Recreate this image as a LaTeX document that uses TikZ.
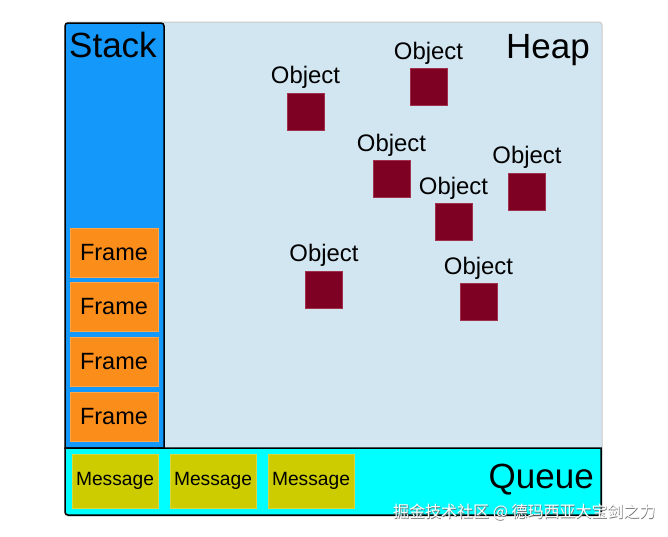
\documentclass[tikz,border=0pt]{standalone}
\usepackage{fontspec}
\setmainfont{Liberation Sans}
\newfontfamily\cjk{Noto Sans CJK SC}
\definecolor{heapfill}{HTML}{D2E6F2}
\definecolor{heapline}{HTML}{C8C8C8}
\definecolor{stackfill}{HTML}{1498FA}
\definecolor{queuefill}{HTML}{00FFFF}
\definecolor{framefill}{HTML}{FB8D1A}
\definecolor{frameline}{HTML}{FFA54A}
\definecolor{msgfill}{HTML}{CCCC00}
\definecolor{msgline}{HTML}{D6D640}
\definecolor{objfill}{HTML}{7E0022}
\definecolor{objline}{HTML}{A0304C}
\begin{document}
\begin{tikzpicture}[x=1pt,y=-1pt,
  title/.style={inner sep=0pt,font=\fontsize{35}{40}\selectfont},
  framebox/.style={fill=framefill,draw=frameline,line width=0.8pt,minimum width=88pt,minimum height=49pt,inner sep=0pt,font=\fontsize{23.5}{28}\selectfont},
  msgbox/.style={fill=msgfill,draw=msgline,line width=0.8pt,minimum width=86pt,minimum height=54pt,inner sep=0pt,font=\fontsize{19.2}{23}\selectfont},
  objbox/.style={fill=objfill,draw=objline,line width=0.5pt,minimum size=37pt,inner sep=0pt},
  objlbl/.style={inner sep=0pt,anchor=base,font=\fontsize{23.9}{28}\selectfont},
  wmark/.style={inner sep=0pt,anchor=west,font=\cjk\fontsize{16}{18}\selectfont}]
\useasboundingbox (0,0) rectangle (668,536);
% heap background
\draw[fill=heapfill,draw=heapline,line width=1pt,rounded corners=3pt] (65,22) rectangle (602,516);
% stack
\draw[fill=stackfill,draw=black,line width=1.5pt] (65,448) [rounded corners=3pt] -- (65,23) -- (164,23) [sharp corners] -- (164,448) -- cycle;
% queue
\draw[fill=queuefill,draw=black,line width=1.5pt] (601,448) -- (65,448) [rounded corners=3pt] -- (65,515) -- (601,515) [sharp corners] -- cycle;
% titles
\node[title,anchor=base west] (stacklbl) at (69,57) {Stack};
\node[title,anchor=base east] (heaplbl) at (590,58) {Heap};
\node[title,anchor=base east] (queuelbl) at (594,488) {Queue};
% frames
\node[framebox] (f1) at (114,252.5) {Frame};
\node[framebox] (f2) at (114,306.5) {Frame};
\node[framebox] (f3) at (114,361.5) {Frame};
\node[framebox] (f4) at (114,417) {Frame};
% messages
\node[msgbox] (m1) at (115,481) {Message};
\node[msgbox] (m2) at (213,481) {Message};
\node[msgbox] (m3) at (311,481) {Message};
% objects
\foreach \n/\x/\y in {A/305.5/111.5, B/428.5/87, C/391.5/179, D/527/191.5, E/453.5/222, F/324/289.5, G/478.5/302}{
  \node[objbox] (o\n) at (\x,\y) {};
  \node[objlbl] (l\n) at ([yshift=9pt]o\n.north) {Object};
}
% watermark
\node[wmark,text=black!55] (wms) at (393.6,512.6) {掘金技术社区 @ 德玛西亚大宝剑之力};
\node[wmark,text=white] (wm) at (393,512) {掘金技术社区 @ 德玛西亚大宝剑之力};
\end{tikzpicture}
\end{document}
